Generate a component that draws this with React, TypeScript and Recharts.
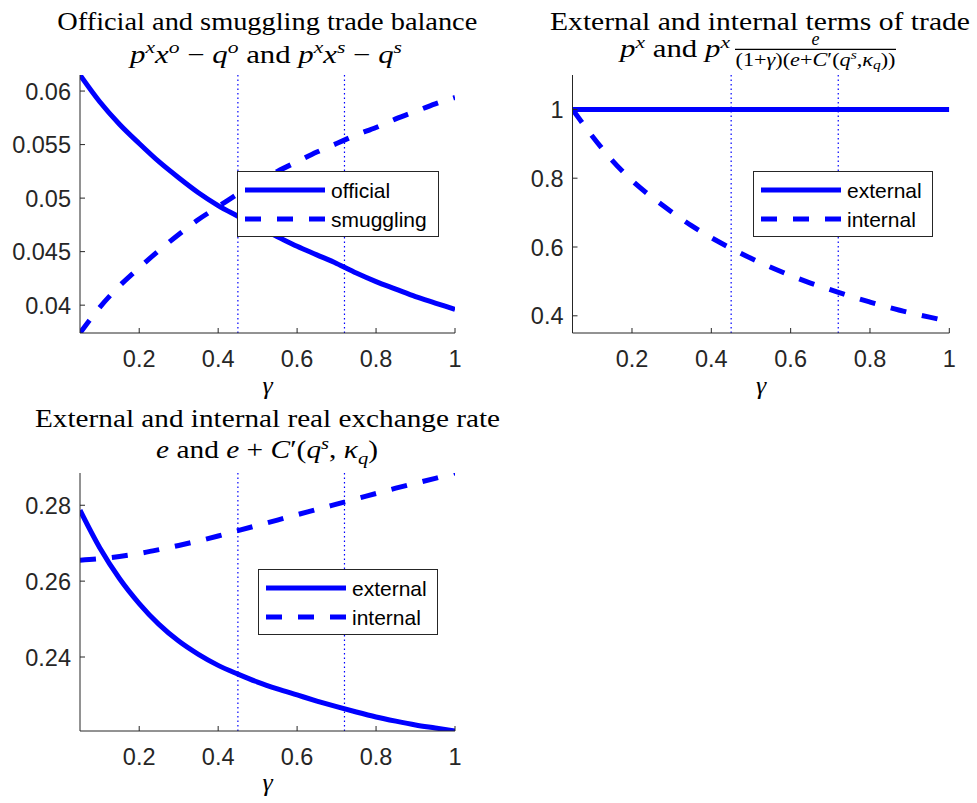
import React from 'react';
import { LineChart, Line, XAxis, YAxis, ReferenceLine, Legend } from 'recharts';

// ---------- data ----------
const gammaValues = [0.05, 0.1, 0.15, 0.2, 0.25, 0.3, 0.35, 0.4, 0.45, 0.5, 0.55, 0.6, 0.65, 0.7, 0.75, 0.8, 0.85, 0.9, 0.95, 1.0];

const officialTB = [0.0615, 0.0590, 0.0569, 0.0551, 0.0534, 0.0519, 0.0505, 0.0493, 0.0483, 0.0473, 0.0464, 0.0455, 0.0447, 0.0439, 0.0430, 0.0422, 0.0415, 0.0408, 0.0402, 0.0396];
const smugglingTB = [0.0374, 0.0398, 0.0418, 0.0435, 0.0451, 0.0466, 0.0480, 0.0492, 0.0504, 0.0515, 0.0525, 0.0534, 0.0543, 0.0551, 0.0559, 0.0566, 0.0574, 0.0581, 0.0588, 0.0594];

const externalTOT = [1, 1, 1, 1, 1, 1, 1, 1, 1, 1, 1, 1, 1, 1, 1, 1, 1, 1, 1, 1];
const internalTOT = [1.0, 0.922, 0.852, 0.793, 0.745, 0.702, 0.662, 0.627, 0.596, 0.567, 0.541, 0.517, 0.495, 0.476, 0.457, 0.440, 0.424, 0.409, 0.396, 0.384];

const externalRER = [0.2787, 0.2688, 0.2607, 0.2541, 0.2486, 0.2442, 0.2407, 0.2378, 0.2355, 0.2334, 0.2316, 0.2300, 0.2284, 0.2269, 0.2255, 0.2242, 0.2231, 0.2221, 0.2213, 0.2205];
const internalRER = [0.2655, 0.2659, 0.2665, 0.2673, 0.2683, 0.2694, 0.2706, 0.2719, 0.2733, 0.2747, 0.2761, 0.2775, 0.2789, 0.2803, 0.2817, 0.2831, 0.2845, 0.2858, 0.2871, 0.2885];

const xTicks = [0.2, 0.4, 0.6, 0.8, 1];
const tbTicks = [0.04, 0.045, 0.05, 0.055, 0.06];
const totTicks = [0.4, 0.6, 0.8, 1];
const rerTicks = [0.24, 0.26, 0.28];
const markerGammas = [0.45, 0.72];

const xDomain: [number, number] = [0.05, 1];
const tbDomain: [number, number] = [0.0374, 0.0615];
const totDomain: [number, number] = [0.35, 1.1];
const rerDomain: [number, number] = [0.2205, 0.2885];

const tbData = gammaValues.map((g, i) => ({ g, a: officialTB[i], b: smugglingTB[i] }));
const totData = gammaValues.map((g, i) => ({ g, a: externalTOT[i], b: internalTOT[i] }));
const rerData = gammaValues.map((g, i) => ({ g, a: externalRER[i], b: internalRER[i] }));

// ---------- styles ----------
const BLUE = '#0000ff';
const AX = '#262626';
const SANS = 'Liberation Sans, Arial, sans-serif';
const SERIF = 'Liberation Serif, Times New Roman, serif';
const TICK_FS = 23.5;
const LW = 5;
const DASH = '16 16';

const BottomTick = (p: any) => (
  <g>
    <line x1={p.x} x2={p.x} y1={p.y} y2={p.y - 5} stroke={AX} strokeWidth={1} />
    <text x={p.x} y={p.y + 34} textAnchor="middle" fontFamily={SANS} fontSize={TICK_FS} fill={AX}>{String(p.payload.value)}</text>
  </g>
);
const TopTick = (p: any) => (
  <line x1={p.x} x2={p.x} y1={p.y} y2={p.y + 5} stroke={AX} strokeWidth={1} />
);
const LeftTick = (p: any) => (
  <g>
    <line x1={p.x} x2={p.x + 5} y1={p.y} y2={p.y} stroke={AX} strokeWidth={1} />
    <text x={p.x - 9} y={p.y + 8.5} textAnchor="end" fontFamily={SANS} fontSize={TICK_FS} fill={AX}>{String(p.payload.value)}</text>
  </g>
);
const RightTick = (p: any) => (
  <line x1={p.x} x2={p.x - 5} y1={p.y} y2={p.y} stroke={AX} strokeWidth={1} />
);

type LegendSpec = { left: number; top: number; w: number; h: number; labels: [string, string] };

const LegendBox = ({ spec }: { spec: LegendSpec }) => (
  <svg width={spec.w} height={spec.h} style={{ display: 'block' }}>
    <rect x={0.5} y={0.5} width={spec.w - 1} height={spec.h - 1} fill="#fff" stroke={AX} strokeWidth={1} />
    <line x1={8} x2={88} y1={19} y2={19} stroke={BLUE} strokeWidth={LW} />
    <line x1={8} x2={88} y1={48} y2={48} stroke={BLUE} strokeWidth={LW} strokeDasharray={DASH} />
    <text x={94} y={19 + 7.5} fontFamily={SANS} fontSize={21} fill="#000">{spec.labels[0]}</text>
    <text x={94} y={48 + 7.5} fontFamily={SANS} fontSize={21} fill="#000">{spec.labels[1]}</text>
  </svg>
);

type PanelProps = {
  left: number; top: number; width: number; height: number;
  margin: { top: number; right: number; left: number; bottom: number };
  yAxisWidth: number; xAxisHeight: number;
  data: any[]; yDomain: [number, number]; yTicks: number[];
  legend: LegendSpec;
};

const Panel = (pp: PanelProps) => (
  <div style={{ position: 'absolute', left: pp.left, top: pp.top, width: pp.width, height: pp.height }}>
    <LineChart width={pp.width} height={pp.height} data={pp.data} margin={pp.margin}>
      <XAxis xAxisId={0} dataKey="g" type="number" domain={xDomain} ticks={xTicks} allowDataOverflow
        height={pp.xAxisHeight} tickLine={false} tickSize={0} tickMargin={0} interval={0}
        axisLine={{ stroke: AX, strokeWidth: 1 }} tick={BottomTick} />
      <XAxis xAxisId="top" orientation="top" dataKey="g" type="number" domain={xDomain} ticks={xTicks} allowDataOverflow
        height={0} tickLine={false} tickSize={0} tickMargin={0} interval={0}
        axisLine={{ stroke: AX, strokeWidth: 1 }} tick={TopTick} />
      <YAxis yAxisId={0} type="number" domain={pp.yDomain} ticks={pp.yTicks} allowDataOverflow
        width={pp.yAxisWidth} tickLine={false} tickSize={0} tickMargin={0} interval={0}
        axisLine={{ stroke: AX, strokeWidth: 1 }} tick={LeftTick} />
      <YAxis yAxisId="right" orientation="right" type="number" domain={pp.yDomain} ticks={pp.yTicks} allowDataOverflow
        width={0} tickLine={false} tickSize={0} tickMargin={0} interval={0}
        axisLine={{ stroke: AX, strokeWidth: 1 }} tick={RightTick} />
      {markerGammas.map((m) => (
        <ReferenceLine key={m} x={m} xAxisId={0} yAxisId={0} stroke={BLUE} strokeWidth={1.2} strokeDasharray="1.5 3" />
      ))}
      <Line type="monotone" dataKey="a" name={pp.legend.labels[0]} stroke={BLUE} strokeWidth={LW} dot={false} isAnimationActive={false} xAxisId={0} yAxisId={0} />
      <Line type="monotone" dataKey="b" name={pp.legend.labels[1]} stroke={BLUE} strokeWidth={LW} strokeDasharray={DASH} dot={false} isAnimationActive={false} xAxisId={0} yAxisId={0} />
      <Legend layout="vertical" align="center" verticalAlign="middle"
        wrapperStyle={{ left: pp.legend.left, top: pp.legend.top, width: pp.legend.w, height: pp.legend.h }}
        content={() => <LegendBox spec={pp.legend} />} />
    </LineChart>
  </div>
);

type Seg = { t: string; i?: boolean; sup?: boolean; sub?: boolean };

const MathText = ({ x, y, size, segs, anchor = 'middle', len }: { x: number; y: number; size: number; segs: Seg[]; anchor?: string; len?: number }) => {
  let cur = 0;
  return (
    <text x={x} y={y} textAnchor={anchor as any} fontFamily={SERIF} fontSize={size} fill="#000" style={{ whiteSpace: 'pre' }}
      {...(len ? { textLength: len, lengthAdjust: 'spacingAndGlyphs' } : {})}>
      {segs.map((s, k) => {
        const target = s.sup ? -0.38 * size : s.sub ? 0.22 * size : 0;
        const dy = target - cur;
        cur = target;
        return (
          <tspan key={k} dy={dy} fontStyle={s.i ? 'italic' : 'normal'} fontSize={s.sup || s.sub ? size * 0.7 : size}>{s.t}</tspan>
        );
      })}
    </text>
  );
};

const Titles = () => (
  <svg width={977} height={803} style={{ position: 'absolute', left: 0, top: 0, pointerEvents: 'none' }}>
    {/* panel 1 */}
    <text x={267.3} y={29.5} textAnchor="middle" fontFamily={SERIF} fontSize={25} textLength={420} lengthAdjust="spacingAndGlyphs" fill="#000">Official and smuggling trade balance</text>
    <MathText x={266} y={62.7} size={25} len={272} segs={[
      { t: 'p', i: true }, { t: 'x', i: true, sup: true }, { t: 'x', i: true }, { t: 'o', i: true, sup: true },
      { t: ' − ' }, { t: 'q', i: true }, { t: 'o', i: true, sup: true }, { t: ' and ' },
      { t: 'p', i: true }, { t: 'x', i: true, sup: true }, { t: 'x', i: true }, { t: 's', i: true, sup: true },
      { t: ' − ' }, { t: 'q', i: true }, { t: 's', i: true, sup: true },
    ]} />
    <text x={267.5} y={394} textAnchor="middle" fontFamily={SERIF} fontStyle="italic" fontSize={26} fill="#000">γ</text>

    {/* panel 2 */}
    <text x={760} y={29.5} textAnchor="middle" fontFamily={SERIF} fontSize={25} textLength={420} lengthAdjust="spacingAndGlyphs" fill="#000">External and internal terms of trade</text>
    <MathText x={620} y={57} size={25} anchor="start" len={110} segs={[
      { t: 'p', i: true }, { t: 'x', i: true, sup: true }, { t: ' and ' }, { t: 'p', i: true }, { t: 'x', i: true, sup: true },
    ]} />
    <text x={815.5} y={45} textAnchor="middle" fontFamily={SERIF} fontStyle="italic" fontSize={18} fill="#000">e</text>
    <line x1={735} x2={896} y1={49.3} y2={49.3} stroke="#000" strokeWidth={1.3} />
    <MathText x={815.5} y={65.5} size={18} len={160} segs={[
      { t: '(1+' }, { t: 'γ', i: true }, { t: ')(' }, { t: 'e', i: true }, { t: '+' }, { t: 'C', i: true }, { t: '′(' },
      { t: 'q', i: true }, { t: 's', i: true, sup: true }, { t: ',' }, { t: 'κ', i: true }, { t: 'q', i: true, sub: true }, { t: '))' },
    ]} />
    <text x={761} y={394} textAnchor="middle" fontFamily={SERIF} fontStyle="italic" fontSize={26} fill="#000">γ</text>

    {/* panel 3 */}
    <text x={267.5} y={426.7} textAnchor="middle" fontFamily={SERIF} fontSize={25} textLength={465} lengthAdjust="spacingAndGlyphs" fill="#000">External and internal real exchange rate</text>
    <MathText x={267} y={458.3} size={25} len={222} segs={[
      { t: 'e', i: true }, { t: ' and ' }, { t: 'e', i: true }, { t: ' + ' }, { t: 'C', i: true }, { t: '′(' },
      { t: 'q', i: true }, { t: 's', i: true, sup: true }, { t: ', ' }, { t: 'κ', i: true }, { t: 'q', i: true, sub: true }, { t: ')' },
    ]} />
    <text x={267.5} y={791} textAnchor="middle" fontFamily={SERIF} fontStyle="italic" fontSize={26} fill="#000">γ</text>
  </svg>
);

export default function App() {
  return (
    <div style={{ position: 'absolute', left: 0, top: 0, width: 977, height: 803, background: '#fff', overflow: 'hidden' }}>
      <Panel left={0} top={0} width={490} height={400}
        margin={{ top: 75, right: 35, left: 0, bottom: 0 }} yAxisWidth={80} xAxisHeight={67}
        data={tbData} yDomain={tbDomain} yTicks={tbTicks}
        legend={{ left: 236.7, top: 171, w: 202, h: 66, labels: ['official', 'smuggling'] }} />
      <Panel left={490} top={0} width={487} height={400}
        margin={{ top: 75, right: 27.7, left: 0, bottom: 0 }} yAxisWidth={82.5} xAxisHeight={67}
        data={totData} yDomain={totDomain} yTicks={totTicks}
        legend={{ left: 262.7, top: 171, w: 180, h: 66, labels: ['external', 'internal'] }} />
      <Panel left={0} top={400} width={490} height={403}
        margin={{ top: 73, right: 35, left: 0, bottom: 0 }} yAxisWidth={80} xAxisHeight={72}
        data={rerData} yDomain={rerDomain} yTicks={rerTicks}
        legend={{ left: 258.3, top: 169.3, w: 180, h: 66, labels: ['external', 'internal'] }} />
      <Titles />
    </div>
  );
}
